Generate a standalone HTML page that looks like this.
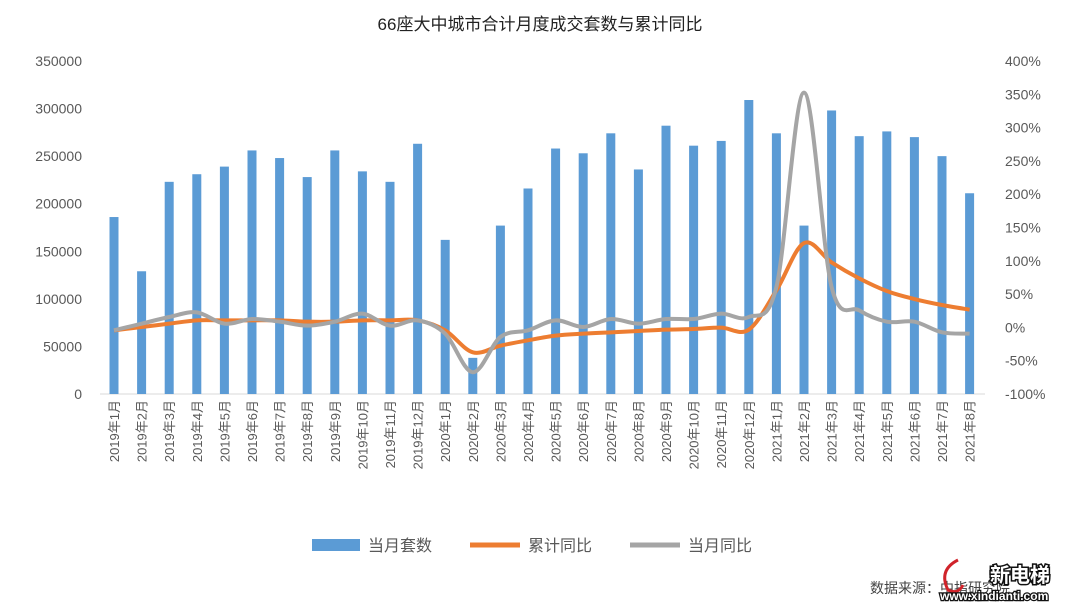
<!DOCTYPE html>
<html><head><meta charset="utf-8"><style>
body{margin:0;background:#fff;width:1080px;height:608px;overflow:hidden;font-family:"Liberation Sans","Noto Sans CJK SC",sans-serif;}
</style></head><body>
<svg id="s" width="1080" height="608" xmlns="http://www.w3.org/2000/svg" font-family="Liberation Sans, Noto Sans CJK SC, sans-serif"></svg>
<script>
const s=document.getElementById('s');let h='';
h+='<text x="540" y="30" font-size="17" text-anchor="middle" fill="#222">66座大中城市合计月度成交套数与累计同比</text>';
const y0=394,ppu=333/350000;
for(let i=0;i<=7;i++){const v=i*50000,y=y0-v*ppu;h+=`<text x="82" y="${y+5}" font-size="14" text-anchor="end" fill="#595959">${v}</text>`;}
for(let i=0;i<=10;i++){const y=y0-i*33.3;h+=`<text x="1005" y="${y+5}" font-size="14" fill="#595959">${(i*50-100)}%</text>`;}
h+=`<line x1="100" y1="394" x2="985" y2="394" stroke="#d9d9d9"/>`;
const bars=[186000,129000,223000,231000,239000,256000,248000,228000,256000,234000,223000,263000,162000,38000,177000,216000,258000,253000,274000,236000,282000,261000,266000,309000,274000,177000,298000,271000,276000,270000,250000,211000];
const org=[-5,0,5,10,10,10,10,8,8,10,10,10,-5,-38,-28,-20,-13,-10,-8,-6,-4,-3,-1,-4,55,126,97,73,54,42,33,26];
const gry=[-5,5,15,22,5,12,8,2,8,20,2,10,-10,-68,-15,-5,10,0,12,5,12,12,20,15,60,352,60,25,8,8,-8,-10];
const X=i=>114+i*27.6, Yp=p=>327-p/50*33.3;
bars.forEach((v,i)=>{const x=X(i);h+=`<rect x="${x-4.5}" y="${y0-v*ppu}" width="9" height="${v*ppu}" fill="#5b9bd5"/>`;
const yr=2019+Math.floor(i/12),m=i%12+1;
h+=`<text transform="translate(${x+5},${400}) rotate(-90)" font-size="13" text-anchor="end" fill="#595959">${yr}年${m}月</text>`;});
function path(d){const p=d.map((v,i)=>[X(i),Yp(v)]);let r=`M${p[0][0]},${p[0][1]}`;
for(let i=0;i<p.length-1;i++){const a=p[i-1]||p[i],b=p[i],c=p[i+1],e=p[i+2]||c;
r+=` C${b[0]+(c[0]-a[0])/6},${b[1]+(c[1]-a[1])/6} ${c[0]-(e[0]-b[0])/6},${c[1]-(e[1]-b[1])/6} ${c[0]},${c[1]}`;}return r;}
h+=`<path d="${path(org)}" fill="none" stroke="#ed7d31" stroke-width="4"/>`;
h+=`<path d="${path(gry)}" fill="none" stroke="#a5a5a5" stroke-width="4"/>`;
h+=`<rect x="312" y="539" width="48" height="12" fill="#5b9bd5"/><text x="368" y="551" font-size="16" fill="#595959">当月套数</text>`;
h+=`<line x1="470" y1="545" x2="520" y2="545" stroke="#ed7d31" stroke-width="5"/><text x="528" y="551" font-size="16" fill="#595959">累计同比</text>`;
h+=`<line x1="630" y1="545" x2="680" y2="545" stroke="#a5a5a5" stroke-width="5"/><text x="688" y="551" font-size="16" fill="#595959">当月同比</text>`;
h+=`<text x="870" y="593" font-size="14" fill="#444">数据来源：中指研究院</text>`;
h+=`<path d="M958,560 q-20,10 -10,30 q10,5 15,-5" fill="none" stroke="#d0232a" stroke-width="3"/>`;
h+=`<text x="990" y="582" font-size="20" font-weight="bold" fill="#fff" stroke="#111" stroke-width="3" paint-order="stroke">新电梯</text>`;
h+=`<text x="940" y="600" font-size="12" font-weight="bold" fill="#fff" stroke="#111" stroke-width="2.5" paint-order="stroke">www.xindianti.com</text>`;
s.innerHTML=h;
</script></body></html>
